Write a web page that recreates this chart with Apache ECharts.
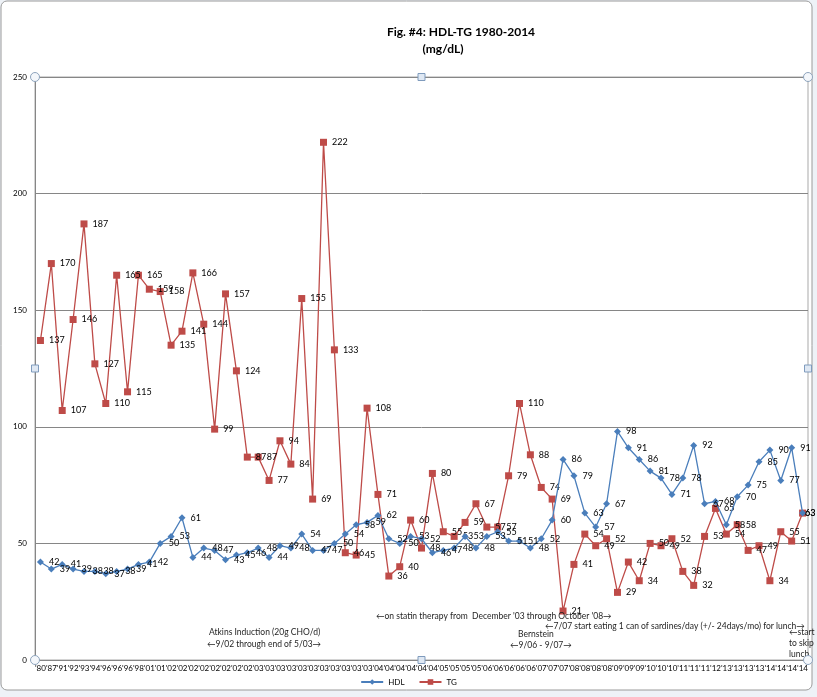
<!DOCTYPE html>
<html>
<head>
<meta charset="utf-8">
<script src="https://cdn.jsdelivr.net/npm/echarts@6/dist/echarts.min.js"></script>
<style>
html,body{margin:0;padding:0;background:#eef2f7;}
#c{width:817px;height:697px;}
</style>
</head>
<body>
<div id="c"></div>
<script>
const categories = ["'80","'87","'91","'92","'93","'94","'96","'96","'96","'98","'01","'01",
"'02","'02","'02","'02","'02","'02","'02","'02",
"'03","'03","'03","'03","'03","'03","'03","'03","'03","'03","'03",
"'04","'04","'04","'04","'04","'04",
"'05","'05","'05","'05",
"'06","'06","'06","'06","'06",
"'07","'07","'07",
"'08","'08","'08","'08",
"'09","'09","'09",
"'10","'10","'10",
"'11","'11","'11",
"'12",
"'13","'13","'13","'13",
"'14","'14","'14","'14"];

const hdl = [42,39,41,39,38,38,37,38,39,41,42,50,53,61,44,48,47,43,45,46,48,44,49,48,
54,47,47,50,54,58,59,62,52,50,53,52,46,47,48,53,48,53,55,51,51,48,52,60,
86,79,63,57,67,98,91,86,81,78,71,78,92,67,68,58,70,75,85,90,77,91,63];

const tg = [137,170,107,146,187,127,110,165,115,165,159,158,135,141,166,144,99,157,124,87,87,77,94,84,
155,69,222,133,46,45,108,71,36,40,60,48,80,55,53,59,67,57,57,79,110,88,74,69,
21,41,54,49,52,29,42,34,50,49,52,38,32,53,65,54,58,47,49,34,55,51,63];

const yTicks = {min:0, max:250, interval:50};

const chart = echarts.init(document.getElementById('c'), null, {renderer:'canvas'});
const FONT = 'Lato, "Open Sans", sans-serif';

function handle(type, x, y){
  if(type==='c') return {type:'circle', shape:{cx:x, cy:y, r:4.5}, style:{fill:'#f4f7fb', stroke:'#8ea4bd', lineWidth:1}, z:100};
  return {type:'rect', shape:{x:x-3.5, y:y-3.5, width:7, height:7}, style:{fill:'#dfe8f3', stroke:'#7f9bbd', lineWidth:1}, z:100};
}
const L=35, R=808, T=77, B=660, MX=(L+R)/2, MY=(T+B)/2;

const ann = (text, x, y) => ({type:'text', left:x, top:y, style:{text:text, fill:'#1f1f1f', font:'8.5px '+FONT}, z:50});

// last point label pulled back inside the chart, as in the reference
const withEdgeLabel = arr => arr.map((v, i) => i === arr.length - 1
  ? {value:v, label:{offset:[-6, 0]}} : v);

chart.setOption({
  backgroundColor:'transparent',
  animation:false,
  title:[
    {text:'Fig. #4: HDL-TG 1980-2014', left:456, top:21, textAlign:'center',
     textStyle:{fontFamily:FONT, fontWeight:'bold', fontSize:12, color:'#000'}},
    {text:'(mg/dL)', left:438, top:38, textAlign:'center',
     textStyle:{fontFamily:FONT, fontWeight:'bold', fontSize:12, color:'#000'}}
  ],
  legend:{
    data:['HDL','TG'], left:'center', top:673, itemWidth:22, itemHeight:7, itemGap:14,
    textStyle:{fontFamily:FONT, fontSize:8, color:'#000'}
  },
  grid:{left:L, right:817-R, top:T, bottom:697-B, show:true, backgroundColor:'#fff', borderColor:'#a9a9a9', borderWidth:1},
  xAxis:{
    type:'category', data:categories, boundaryGap:true,
    axisLine:{lineStyle:{color:'#868686'}}, axisTick:{show:false},
    axisLabel:{interval:0, fontSize:8, fontFamily:FONT, color:'#000', margin:4, hideOverlap:false}
  },
  yAxis:{
    type:'value', min:yTicks.min, max:yTicks.max, interval:yTicks.interval,
    axisLine:{show:true, lineStyle:{color:'#868686'}}, axisTick:{show:false},
    splitLine:{lineStyle:{color:'#868686'}},
    axisLabel:{fontSize:8, fontFamily:FONT, color:'#000', margin:8}
  },
  series:[
    {name:'HDL', type:'line', data:withEdgeLabel(hdl), color:'#4a7ebb', symbol:'diamond', symbolSize:7,
     lineStyle:{width:1.3, color:'#4a7ebb'}, itemStyle:{color:'#4a7ebb'},
     label:{show:true, position:'right', distance:5, fontSize:9, fontFamily:FONT, color:'#000'}, z:3},
    {name:'TG', type:'line', data:withEdgeLabel(tg), color:'#be4b48', symbol:'rect', symbolSize:7,
     lineStyle:{width:1.3, color:'#be4b48'}, itemStyle:{color:'#be4b48'},
     label:{show:true, position:'right', distance:5, fontSize:9, fontFamily:FONT, color:'#000'}, z:2}
  ],
  graphic:[
    {type:'rect', shape:{x:1, y:1, width:811, height:689, r:6}, style:{fill:'#fff', stroke:'#9a9a9a', lineWidth:1}, z:-10, silent:true},
    ann('Atkins Induction (20g CHO/d)', 209, 628),
    ann('\u21909/02 through end of 5/03\u2192', 207, 640),
    ann("\u2190on statin therapy from  December '03 through October '08\u2192", 376, 612),
    ann('\u21907/07 start eating 1 can of sardines/day (+/- 24days/mo) for lunch\u2192', 545, 622),
    ann('Bernstein', 518, 630),
    ann('\u21909/06 - 9/07\u2192', 510, 641),
    ann('\u2190start', 789, 628),
    ann('to skip', 789, 639),
    ann('lunch', 789, 650),
    handle('c', L, T), handle('c', R, T), handle('c', L, B), handle('c', R, B),
    handle('s', MX, T), handle('s', MX, B), handle('s', L, MY), handle('s', R, MY)
  ]
});
</script>
</body>
</html>
